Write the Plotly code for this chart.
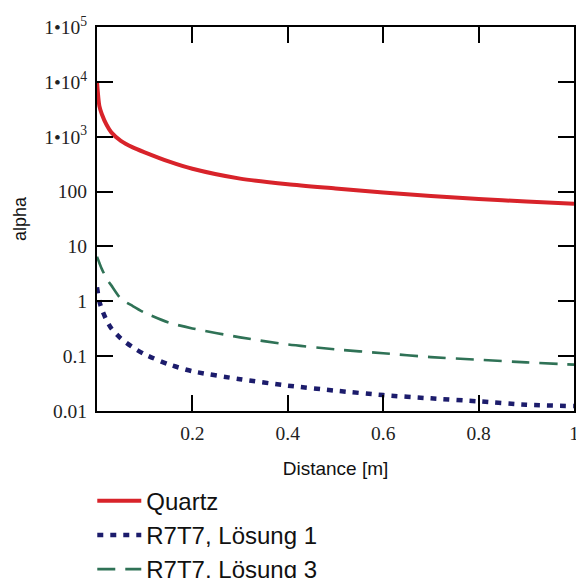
import plotly.graph_objects as go

# Distance [m]
distance = [0.0, 0.005, 0.01, 0.02, 0.03, 0.05, 0.075, 0.1, 0.15, 0.2,
            0.3, 0.4, 0.5, 0.6, 0.7, 0.8, 0.9, 1.0]
# alpha values
quartz = [10000, 3600, 2600, 1650, 1200, 840, 640, 520, 355, 260,
          172, 136, 114, 96, 83, 73, 66, 60]
r7t7_loesung1 = [1.8, 1.0, 0.72, 0.45, 0.32, 0.21, 0.145, 0.108, 0.071, 0.053,
                 0.038, 0.029, 0.0235, 0.0195, 0.017, 0.015, 0.013, 0.0123]
r7t7_loesung3 = [6.5, 5.0, 3.9, 2.6, 1.95, 1.12, 0.82, 0.62, 0.41, 0.32,
                 0.22, 0.163, 0.133, 0.113, 0.096, 0.086, 0.077, 0.070]

series_names = ["Quartz", "R7T7, Lösung 1", "R7T7, Lösung 3"]

y_tickvals = [0.01, 0.1, 1, 10, 100, 1000, 10000, 100000]
y_ticktext = ["0.01", "0.1", "1", "10", "100",
              "1\u202210<sup>3</sup>", "1\u202210<sup>4</sup>", "1\u202210<sup>5</sup>"]
x_tickvals = [0.2, 0.4, 0.6, 0.8, 1.0]
x_ticktext = ["0.2", "0.4", "0.6", "0.8", "1"]

fig = go.Figure()
fig.add_trace(go.Scatter(x=distance, y=quartz, name=series_names[0], mode="lines",
                         line=dict(color="#d8232a", width=4, shape="spline", smoothing=0.7)))
fig.add_trace(go.Scatter(x=distance, y=r7t7_loesung1, name=series_names[1], mode="lines",
                         line=dict(color="#1c1c6c", width=4.5, dash="6px,7px",
                                   shape="spline", smoothing=0.7)))
fig.add_trace(go.Scatter(x=distance, y=r7t7_loesung3, name=series_names[2], mode="lines",
                         line=dict(color="#2f7256", width=2.6, dash="18px,10px",
                                   shape="spline", smoothing=0.7)))

serif = "Liberation Serif, Times New Roman, serif"
sans = "Liberation Sans, Arial, sans-serif"

fig.update_layout(
    width=576, height=578,
    margin=dict(l=97, r=2, t=27, b=167, autoexpand=False),
    paper_bgcolor="white", plot_bgcolor="white",
    showlegend=True,
    legend=dict(x=-0.0099, y=-0.176, xanchor="left", yanchor="top",
                font=dict(family=sans, size=24, color="#111"),
                bgcolor="rgba(0,0,0,0)", tracegroupgap=0, itemwidth=44),
    xaxis=dict(range=[0, 1], tickvals=x_tickvals, ticktext=x_ticktext,
               ticks="inside", ticklen=16, tickwidth=2, tickcolor="black",
               showline=True, linecolor="black", linewidth=2, mirror="ticks",
               showgrid=False, zeroline=False, ticklabelstandoff=4,
               ticklabeloverflow="allow",
               tickfont=dict(family=serif, size=19.5, color="#222"),
               title=dict(text="Distance [m]", standoff=18,
                          font=dict(family=sans, size=19, color="#111"))),
    yaxis=dict(type="log", range=[-2, 5], tickvals=y_tickvals, ticktext=y_ticktext,
               ticks="inside", ticklen=16, tickwidth=2, tickcolor="black",
               showline=True, linecolor="black", linewidth=2, mirror="ticks",
               showgrid=False, zeroline=False, ticklabelstandoff=4,
               ticklabeloverflow="allow",
               tickfont=dict(family=serif, size=19.5, color="#222"),
               title=dict(text="alpha", standoff=13,
                          font=dict(family=sans, size=18, color="#111"))),
)

fig.write_html("out.html", config={"displayModeBar": False},
               post_script="document.body.style.margin='0';document.body.style.overflow='hidden';")
